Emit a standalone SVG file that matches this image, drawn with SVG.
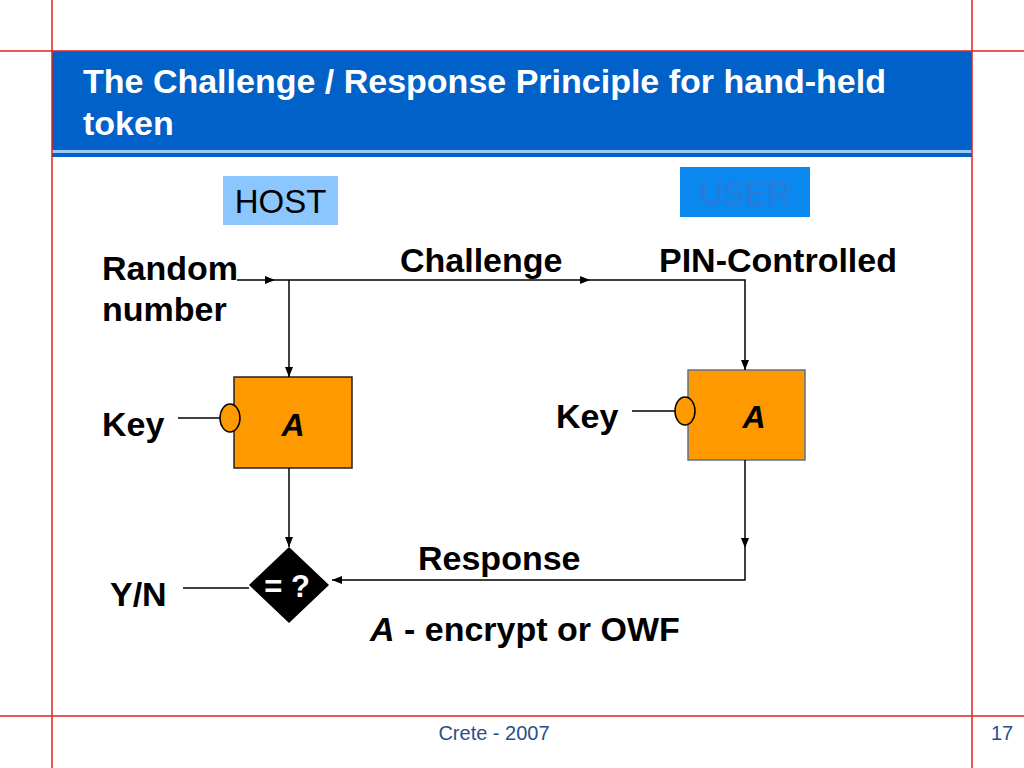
<svg xmlns="http://www.w3.org/2000/svg" width="1024" height="768" viewBox="0 0 1024 768">
<defs>
<marker id="ah" viewBox="0 0 10 8" refX="10" refY="4" markerWidth="10" markerHeight="8" markerUnits="userSpaceOnUse" orient="auto">
<path d="M0,0 L10,4 L0,8 Z" fill="#000"/>
</marker>
</defs>
<style>
.lbl{font-family:"Liberation Sans",Arial,sans-serif;font-weight:bold;font-size:34px;fill:#000}
.ln{stroke:#000;stroke-width:1.5;fill:none}
.box{fill:#ff9900}
.knob{fill:#ff9900;stroke:#000;stroke-width:1.5}
.ital{font-family:"Liberation Sans",Arial,sans-serif;font-weight:bold;font-style:italic;font-size:32px;fill:#000}
.guide{stroke:#e02020;stroke-width:1.5}
</style>
<rect width="1024" height="768" fill="#fff"/>
<g id="title">
<rect x="52" y="51" width="920" height="106" fill="#0062c8"/>
<rect x="52" y="150" width="920" height="3" fill="#9ccaf4"/>
<text x="83" y="93" font-family="Liberation Sans,Arial,sans-serif" font-weight="bold" font-size="34" fill="#fff">The Challenge / Response Principle for hand-held</text>
<text x="83" y="135" font-family="Liberation Sans,Arial,sans-serif" font-weight="bold" font-size="34" fill="#fff">token</text>
</g>
<g id="guides">
<line class="guide" x1="52" y1="0" x2="52" y2="768"/>
<line class="guide" x1="972" y1="0" x2="972" y2="768"/>
<line class="guide" x1="0" y1="51" x2="1024" y2="51"/>
<line class="guide" x1="0" y1="716" x2="1024" y2="716"/>
</g>
<g id="host">
<rect x="223" y="176" width="115" height="49" fill="#8cc6ff"/>
<text x="280.5" y="213" text-anchor="middle" font-family="Liberation Sans,Arial,sans-serif" font-size="33" fill="#000">HOST</text>
</g>
<g id="user">
<rect x="680" y="167" width="130" height="50" fill="#0a88f0"/>
<text x="745" y="205" text-anchor="middle" font-family="Liberation Sans,Arial,sans-serif" font-size="33" fill="#2a7ad8">USER</text>
</g>
<g id="labels">
<text class="lbl" x="102" y="280">Random</text>
<text class="lbl" x="102" y="321">number</text>
<text class="lbl" x="400" y="272">Challenge</text>
<text class="lbl" x="659" y="272">PIN-Controlled</text>
<text class="lbl" x="102" y="436">Key</text>
<text class="lbl" x="556" y="428">Key</text>
<text class="lbl" x="110" y="606">Y/N</text>
<text class="lbl" x="418" y="570">Response</text>
<text class="lbl" x="370" y="641"><tspan font-style="italic">A</tspan> - encrypt or OWF</text>
</g>
<g id="algo-host">
<rect class="box" x="234" y="377" width="118" height="91" stroke="#222" stroke-width="1.5"/>
<ellipse class="knob" cx="230" cy="418" rx="10" ry="14"/>
<text class="ital" x="293" y="436" text-anchor="middle">A</text>
</g>
<g id="algo-user">
<rect class="box" x="688" y="370" width="117" height="90" stroke="#5a7090" stroke-width="1.5"/>
<ellipse class="knob" cx="685" cy="411" rx="10" ry="14"/>
<text class="ital" x="754" y="428" text-anchor="middle">A</text>
</g>
<g id="compare">
<polygon points="289,547 329,585 289,623 249,585" fill="#000"/>
<text x="287" y="597" text-anchor="middle" font-family="Liberation Sans,Arial,sans-serif" font-weight="bold" font-size="31" fill="#fff">= ?</text>
</g>
<g id="connectors">
<line class="ln" x1="237" y1="280" x2="275" y2="280" marker-end="url(#ah)"/>
<line class="ln" x1="275" y1="280" x2="590" y2="280" marker-end="url(#ah)"/>
<polyline class="ln" points="590,280 745,280 745,370" marker-end="url(#ah)"/>
<line class="ln" x1="289" y1="280" x2="289" y2="377" marker-end="url(#ah)"/>
<line class="ln" x1="178" y1="418" x2="220" y2="418"/>
<line class="ln" x1="632" y1="411" x2="675" y2="411"/>
<line class="ln" x1="289" y1="468" x2="289" y2="547" marker-end="url(#ah)"/>
<line class="ln" x1="745" y1="460" x2="745" y2="548" marker-end="url(#ah)"/>
<polyline class="ln" points="745,548 745,580 332,580" marker-end="url(#ah)"/>
<line class="ln" x1="183" y1="588" x2="249" y2="588"/>
</g>
<g id="footer">
<text x="494" y="740" text-anchor="middle" font-family="Liberation Sans,Arial,sans-serif" font-size="20" fill="#2a4e8a">Crete - 2007</text>
<text x="1002" y="740" text-anchor="middle" font-family="Liberation Sans,Arial,sans-serif" font-size="20" fill="#2a4e8a">17</text>
</g>
</svg>
